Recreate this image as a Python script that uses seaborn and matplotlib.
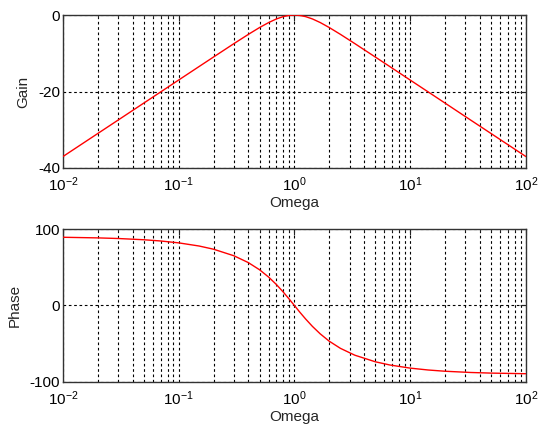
import matplotlib
matplotlib.use("Agg")
import matplotlib.pyplot as plt
import matplotlib.ticker as mticker
import pandas as pd
import seaborn as sns

# Frequency samples (rad/s) and the measured response of the band-pass filter
omega = [0.01, 0.02, 0.03, 0.05, 0.07, 0.1, 0.15, 0.2, 0.3, 0.4, 0.5, 0.6,
         0.7, 0.8, 0.9, 1.0, 1.11, 1.25, 1.43, 1.67, 2.0, 2.5, 3.33, 5.0,
         6.67, 10.0, 14.3, 20.0, 33.3, 50.0, 100.0]
gain_db = [-36.99, -30.97, -27.45, -23.01, -20.09, -16.99, -13.47, -10.98,
           -7.48, -5.06, -3.27, -1.96, -1.02, -0.42, -0.10, 0.0, -0.10,
           -0.42, -1.02, -1.96, -3.27, -5.06, -7.48, -10.98, -13.47, -16.99,
           -20.09, -23.01, -27.45, -30.97, -36.99]
phase_deg = [89.19, 88.38, 87.57, 85.95, 84.32, 81.87, 77.76, 73.58, 65.00,
             56.04, 46.68, 37.03, 27.26, 17.65, 8.49, 0.0, -8.49, -17.65,
             -27.26, -37.03, -46.68, -56.04, -65.00, -73.58, -77.76, -81.87,
             -84.32, -85.95, -87.57, -88.38, -89.19]

gain_ticks = [-40, -20, 0]
phase_ticks = [-100, 0, 100]

df = pd.DataFrame({"Omega": omega, "Gain": gain_db, "Phase": phase_deg})

sns.set_style("white")
plt.rcParams["font.family"] = ["Liberation Sans", "DejaVu Sans"]
plt.rcParams["font.size"] = 11
plt.rcParams["axes.unicode_minus"] = False

fig = plt.figure(figsize=(5.4, 4.29), dpi=100)
ax_gain = fig.add_axes([0.1167, 0.6084, 0.857, 0.3566])
ax_phase = fig.add_axes([0.1167, 0.1096, 0.857, 0.3566])

grid_kw = dict(color="black", linewidth=0.8, linestyle=(0, (2.4, 2.4)))

for ax, col, ticks in ((ax_gain, "Gain", gain_ticks),
                       (ax_phase, "Phase", phase_ticks)):
    sns.lineplot(data=df, x="Omega", y=col, ax=ax, color="red",
                 linewidth=1.0, zorder=3)
    ax.set_xscale("log")
    ax.set_xlim(1e-2, 1e2)
    ax.set_ylim(ticks[0], ticks[-1])
    ax.set_yticks(ticks)
    ax.xaxis.set_major_locator(mticker.FixedLocator([1e-2, 1e-1, 1e0, 1e1, 1e2]))
    ax.xaxis.set_minor_locator(mticker.LogLocator(base=10, subs=range(2, 10)))
    ax.xaxis.set_minor_formatter(mticker.NullFormatter())
    ax.grid(True, which="major", axis="both", **grid_kw)
    ax.grid(True, which="minor", axis="x", **grid_kw)
    ax.set_axisbelow(True)
    ax.tick_params(which="major", direction="in", length=4, width=0.8,
                   labelsize=11, colors="#222222", labelcolor="black")
    ax.tick_params(which="minor", direction="in", length=2, width=0.6)
    ax.tick_params(axis="x", which="both", top=True, pad=5)
    ax.tick_params(axis="y", which="both", right=True, pad=2)
    for sp in ax.spines.values():
        sp.set_color("#333333")
        sp.set_linewidth(1.0)
    ax.set_xlabel("Omega", fontsize=11, labelpad=2)
    ax.set_ylabel(col, fontsize=11, labelpad=6)

fig.savefig("out.png", dpi=100, facecolor="white")
